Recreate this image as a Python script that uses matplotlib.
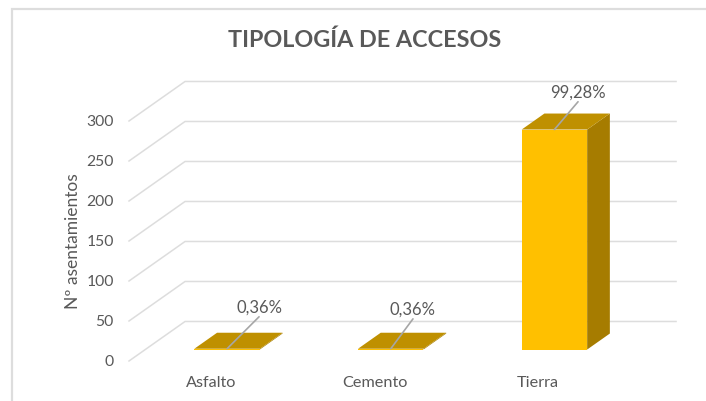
import matplotlib
matplotlib.use('Agg')
import matplotlib.pyplot as plt
from matplotlib.patches import Polygon, Rectangle

categories = ['Asfalto', 'Cemento', 'Tierra']
values = [1, 1, 275]
percent_labels = ['0,36%', '0,36%', '99,28%']
y_ticks = [0, 50, 100, 150, 200, 250, 300]

FRONT = '#FFC000'
TOP = '#BF9000'
SIDE = '#A67C00'
GRID = '#DDDDDD'
TEXT = '#595959'

plt.rcParams['font.family'] = ['Lato', 'DejaVu Sans']

# fake 3d: depth of the floor in data units
DEPTH_X = 0.3425
DEPTH_Y = 49.4
BAR_W = 0.4
BAR_D0 = 0.29
BAR_D1 = 0.695

# label leader offsets in points, one per bar
leader_ends = [(23, 23), (16, 21.5), (17, 20)]

W, H = 706, 401
fig = plt.figure(figsize=(W / 100, H / 100), dpi=100)
ax = fig.add_axes([129 / W, 40 / H, 491 / W, 240 / H])
ax.set_xlim(-0.5, 2.5)
ax.set_ylim(0, 300)
for s in ax.spines.values():
    s.set_visible(False)

# chart frame, only top and left are inside the picture
fig.patches.append(Rectangle((12 / W, -0.1), 1.1, (401 - 9) / H + 0.1, transform=fig.transFigure,
                             fc='none', ec='#DDDDDD', lw=1.6))

for t in y_ticks:
    ax.plot([-0.5, -0.5 + DEPTH_X, 2.5 + DEPTH_X], [t, t + DEPTH_Y, t + DEPTH_Y],
            color=GRID, lw=1.1, clip_on=False, zorder=1, solid_joinstyle='miter')

for i, v in enumerate(values):
    x0, x1 = i - BAR_W / 2, i + BAR_W / 2
    fx0 = x0 + DEPTH_X * BAR_D0
    fx1 = x1 + DEPTH_X * BAR_D0
    base = DEPTH_Y * BAR_D0
    sx = DEPTH_X * (BAR_D1 - BAR_D0)
    sy = DEPTH_Y * (BAR_D1 - BAR_D0)
    face = [(fx0, base), (fx1, base), (fx1, base + v), (fx0, base + v)]
    side = [(fx1, base), (fx1 + sx, base + sy), (fx1 + sx, base + sy + v), (fx1, base + v)]
    top = [(fx0, base + v), (fx1, base + v), (fx1 + sx, base + sy + v), (fx0 + sx, base + sy + v)]
    ax.add_patch(Polygon(side, fc=SIDE, ec='none', clip_on=False, zorder=3))
    ax.add_patch(Polygon(face, fc=FRONT, ec='none', clip_on=False, zorder=3))
    ax.add_patch(Polygon(top, fc=TOP, ec='none', clip_on=False, zorder=3))
    ax.annotate('', xy=(i + DEPTH_X * BAR_D0, base + v), xytext=leader_ends[i], textcoords='offset points',
                arrowprops=dict(arrowstyle='-', color='#A6A6A6', lw=1.2, shrinkA=0, shrinkB=0),
                annotation_clip=False, zorder=4)
    ax.annotate(percent_labels[i], xy=(i + DEPTH_X * BAR_D0, base + v),
                xytext=(leader_ends[i][0], leader_ends[i][1] + 1), textcoords='offset points',
                ha='center', va='bottom', color=TEXT, fontsize=12, annotation_clip=False, zorder=5)

ax.set_xticks(range(len(categories)))
ax.set_xticklabels(categories)
ax.set_yticks(y_ticks)
ax.tick_params(axis='both', length=0, labelcolor=TEXT)
ax.tick_params(axis='x', pad=11, labelsize=11.7)
ax.tick_params(axis='y', pad=11, labelsize=11.3)
ax.set_ylabel('Nº asentamientos', color=TEXT, fontsize=12.5, labelpad=4)

fig.text(365 / W, (H - 40) / H, 'TIPOLOGÍA DE ACCESOS', ha='center', va='center',
         color=TEXT, fontsize=16.8, fontweight='bold')

fig.savefig('out.png', dpi=100)
